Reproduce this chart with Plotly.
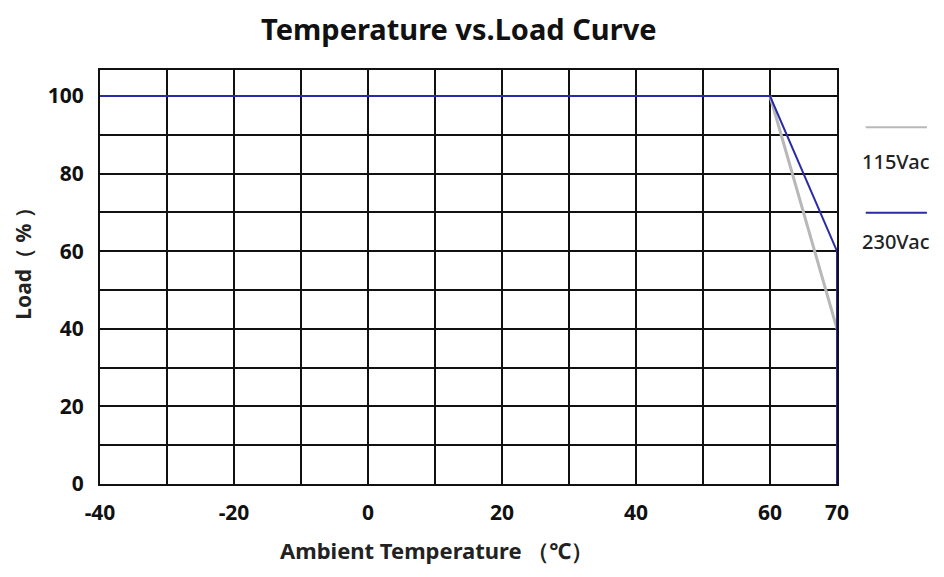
import plotly.graph_objects as go

# Data
temp_115 = [60, 70]
load_115 = [100, 40]
temp_230 = [-40, 60, 70, 70]
load_230 = [100, 100, 60, 0]

x_ticks = [-40, -30, -20, -10, 0, 10, 20, 30, 40, 50, 60, 70]
x_labels = ["-40", "", "-20", "", "0", "", "20", "", "40", "", "60", "70"]
y_ticks = [0, 10, 20, 30, 40, 50, 60, 70, 80, 90, 100]
y_labels = ["0", "", "20", "", "40", "", "60", "", "80", "", "100"]

series_names = ["115Vac", "230Vac"]
series_colors = ["#b8b8b8", "#2a2aa8"]

FONT = "Noto Sans"
INK = "#111"

fig = go.Figure()
fig.add_trace(go.Scatter(x=temp_115, y=load_115, mode="lines",
                         line=dict(color=series_colors[0], width=3),
                         name=series_names[0], showlegend=False))
fig.add_trace(go.Scatter(x=temp_230, y=load_230, mode="lines",
                         line=dict(color=series_colors[1], width=2),
                         name=series_names[1], showlegend=False))

# manual legend (label below line sample)
legend_line_y = [0.862, 0.655]
legend_text_y = [0.780, 0.585]
for i, (nm, col) in enumerate(zip(series_names, series_colors)):
    fig.add_shape(type="line", xref="paper", yref="paper",
                  x0=1.039, x1=1.122, y0=legend_line_y[i], y1=legend_line_y[i],
                  line=dict(color=col, width=2))
    fig.add_annotation(xref="paper", yref="paper", x=1.08, y=legend_text_y[i],
                       xanchor="center", yanchor="middle",
                       text=nm, showarrow=False,
                       font=dict(family=FONT, size=20, color="#222", weight=500))

# axis titles as annotations for exact placement
fig.add_annotation(xref="paper", yref="paper", x=0.457, y=-0.16,
                   xanchor="center", yanchor="middle", showarrow=False,
                   text="<b>Ambient Temperature （℃）</b>",
                   font=dict(family=FONT, size=22, color="#222"))
fig.add_annotation(xref="paper", yref="paper", x=-0.104, y=0.545,
                   xanchor="center", yanchor="middle", showarrow=False,
                   textangle=-90, text="<b>Load（ % ）</b>",
                   font=dict(family=FONT, size=21, color="#222"))

fig.update_layout(
    width=944, height=577,
    margin=dict(l=100, r=107, t=70, b=93, autoexpand=False),
    paper_bgcolor="white", plot_bgcolor="white",
    title=dict(text="<b>Temperature vs.Load Curve</b>", x=0.486, xanchor="center",
               y=0.948, yanchor="middle",
               font=dict(family=FONT, size=29, color=INK)),
    font=dict(family=FONT, color=INK),
)
fig.update_xaxes(range=[-40, 70], tickvals=x_ticks, ticktext=x_labels,
                 showgrid=True, gridcolor=INK, gridwidth=2,
                 showline=True, linecolor=INK, linewidth=2, mirror=True,
                 zeroline=False, ticks="", ticklabelstandoff=9,
                 tickfont=dict(family=FONT, size=21, color=INK, weight="bold"))
fig.update_yaxes(range=[0, 106.7], tickvals=y_ticks, ticktext=y_labels,
                 showgrid=True, gridcolor=INK, gridwidth=2,
                 showline=True, linecolor=INK, linewidth=2, mirror=True,
                 zeroline=False, ticks="", ticklabelstandoff=10,
                 tickfont=dict(family=FONT, size=21, color=INK, weight="bold"))

fig.write_html("out.html", config={"displayModeBar": False},
               post_script="document.body.style.margin='0';")
